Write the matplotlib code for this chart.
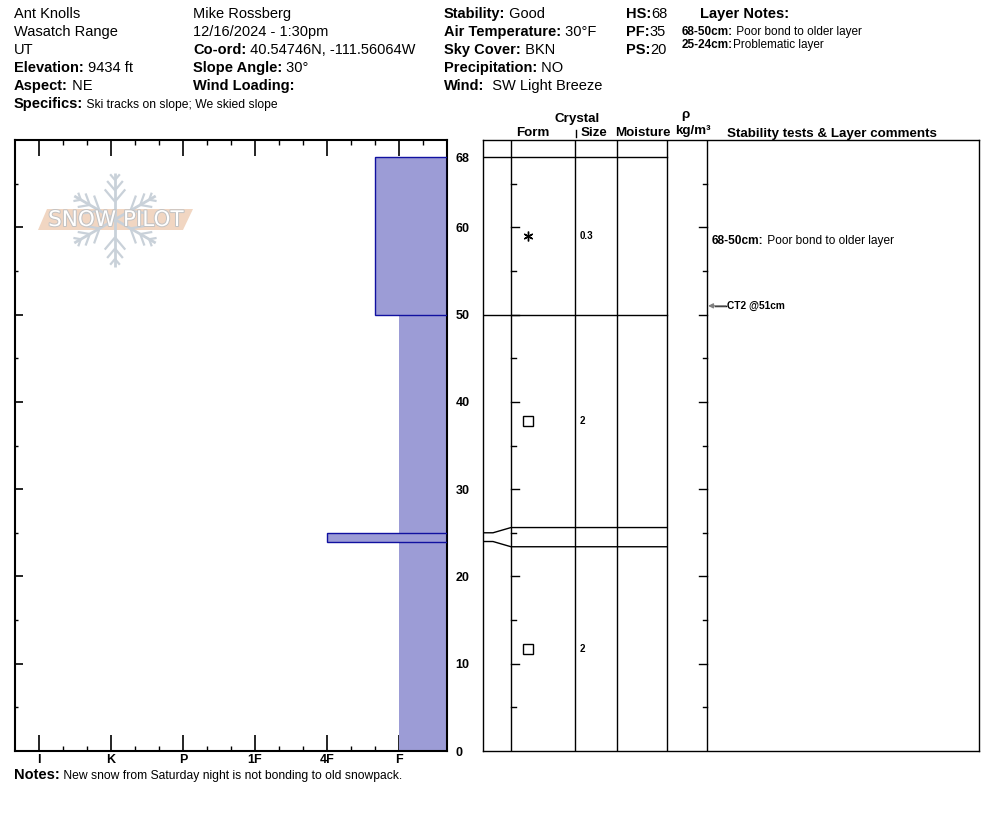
import numpy as np
import matplotlib
matplotlib.use('Agg')
import matplotlib.pyplot as plt
from matplotlib.patches import Polygon
import matplotlib.patheffects as pe

plt.rcParams['font.family'] = ['Liberation Sans', 'DejaVu Sans']

# ---------------- data ----------------
layer_top = [68, 50, 25, 24]
layer_bottom = [50, 25, 24, 0]
layer_hardness = ['F+', 'F', '4F', 'F']
grain_form = ['PP', 'FC', '', 'FC']
grain_size = ['0.3', '2', '', '2']
hardness_labels = ['I', 'K', 'P', '1F', '4F', 'F']
depth_ticks = [0, 10, 20, 30, 40, 50, 60, 68]
snow_height = 68

col1 = [('', 'Ant Knolls'), ('', 'Wasatch Range'), ('', 'UT'),
        ('Elevation:', ' 9434 ft'), ('Aspect:', ' NE')]
col2 = [('', 'Mike Rossberg'), ('', '12/16/2024 - 1:30pm'),
        ('Co-ord:', ' 40.54746N, -111.56064W'), ('Slope Angle:', ' 30°'),
        ('Wind Loading:', '')]
col3 = [('Stability:', ' Good'), ('Air Temperature:', ' 30°F'),
        ('Sky Cover:', ' BKN'), ('Precipitation:', ' NO'),
        ('Wind:', '  SW Light Breeze')]
col4 = [('HS:', '68'), ('PF:', '35'), ('PS:', '20')]
specifics = ('Specifics:', ' Ski tracks on slope; We skied slope')
layer_notes = [('68-50cm:', ' Poor bond to older layer'),
               ('25-24cm:', 'Problematic layer')]
layer_comments = [('68-50cm:', ' Poor bond to older layer', 68, 50)]
stability_tests = [('CT2 @51cm', 51)]
notes = ('Notes:', ' New snow from Saturday night is not bonding to old snowpack.')

# ---------------- helpers ----------------
def hardness_value(h):
    base = {lab: len(hardness_labels) - i for i, lab in enumerate(hardness_labels)}
    if h.endswith('+'):
        return base[h[:-1]] + 1 / 3
    if h.endswith('-'):
        return base[h[:-1]] - 1 / 3
    return base[h]

W, H = 994, 840
fig = plt.figure(figsize=(W / 100, H / 100), dpi=100)

def fx(px):
    return px / W

def fy(py):
    return 1 - py / H

fill_c = '#9c9cd6'
edge_c = '#1010a0'

# ---------------- left hardness profile ----------------
axL = fig.add_axes([fx(15), fy(751), fx(447 - 15), (751 - 140) / H])
xmin_edge = 1 / 3
nh = len(hardness_labels)
axL.set_xlim(nh + 1 / 3, xmin_edge)
axL.set_ylim(0, 70)
min_h = min(hardness_value(h) for h in layer_hardness)
for t, b, h in zip(layer_top, layer_bottom, layer_hardness):
    v = hardness_value(h)
    axL.barh(b, v - xmin_edge, left=xmin_edge, height=t - b, align='edge',
             color=fill_c, edgecolor='none', linewidth=0, zorder=2)
# outlines of the harder layers on top
for t, b, h in zip(layer_top, layer_bottom, layer_hardness):
    v = hardness_value(h)
    if abs(v - min_h) > 1e-9:
        axL.barh(b, v - xmin_edge, left=xmin_edge, height=t - b, align='edge',
                 color='none', edgecolor=edge_c, linewidth=1.0, zorder=3)

major_x = [nh - i for i in range(nh)]
axL.set_xticks(major_x)
axL.set_xticklabels(hardness_labels, fontsize=9, fontweight='bold')
axL.set_xticks([k / 3 for k in range(2, 3 * nh + 1) if k % 3 != 0], minor=True)
axL.set_yticks(depth_ticks)
axL.set_yticklabels([str(d) for d in depth_ticks], fontsize=9, fontweight='bold')
axL.set_yticks(list(range(5, 70, 10)), minor=True)
axL.tick_params(axis='x', which='major', direction='in', length=11.5, width=1.2,
                top=True, bottom=True, pad=2)
axL.tick_params(axis='x', which='minor', direction='in', length=3.6, width=1.0,
                top=True, bottom=True)
axL.tick_params(axis='y', which='major', direction='in', length=5.5, width=1.2,
                left=True, right=True, labelleft=False, labelright=True, pad=6)
axL.tick_params(axis='y', which='minor', direction='in', length=2.2, width=1.0,
                left=True, right=True)
last = axL.yaxis.get_major_ticks()[-1]
last.tick1line.set_visible(False)
last.tick2line.set_visible(False)
for sp in axL.spines.values():
    sp.set_linewidth(1.5)

# ---------------- right panel ----------------
axR = fig.add_axes([fx(483), fy(751), fx(979 - 483), (751 - 140) / H])
axR.set_xlim(0, 496)
axR.set_ylim(0, 70)
axR.set_xticks([])
axR.set_yticks([])
for sp in axR.spines.values():
    sp.set_linewidth(1.0)
col_lines = [28, 92, 134, 184, 224]
for cx in col_lines:
    axR.plot([cx, cx], [0, 70], color='black', lw=1.0)
for d in range(5, 70, 5):
    axR.plot([28, 28 + (8 if d % 10 == 0 else 5)], [d, d], color='black', lw=1.0)
    axR.plot([224 - (8 if d % 10 == 0 else 4), 224], [d, d], color='black', lw=1.0)

# layer boundaries (expanded for thin layers)
min_disp = 2.2
disp = {}
for t, b in zip(layer_top, layer_bottom):
    disp.setdefault(t, t)
    disp.setdefault(b, b)
for t, b in zip(layer_top, layer_bottom):
    if t - b < min_disp:
        mid = (t + b) / 2
        disp[t] = mid + min_disp / 2
        disp[b] = mid - min_disp / 2
for d, dd in disp.items():
    if d <= 0:
        continue
    if abs(dd - d) < 1e-9:
        axR.plot([0, 184], [d, d], color='black', lw=1.0)
    else:
        axR.plot([0, 10, 28, 184], [d, d, dd, dd], color='black', lw=1.0)

marker_map = {'PP': dict(marker=(6, 2, 0), ms=7, mew=1.0, mec='black'),
              'FC': dict(marker='s', ms=6.5, mfc='none', mew=1.0, mec='black')}
for t, b, g, s in zip(layer_top, layer_bottom, grain_form, grain_size):
    mid = (disp[t] + disp[b]) / 2
    if g:
        axR.plot([45], [mid], linestyle='none', **marker_map[g])
    if s:
        axR.text(97, mid, s, fontsize=7, fontweight='bold', va='center', ha='left')

for lab, txt, t, b in layer_comments:
    tt = axR.text(229, (t + b) / 2 + 0.1, lab, fontsize=8.6, fontweight='bold',
                  va='top', ha='left')
    axR.annotate(txt, xy=(1, 0), xycoords=tt, fontsize=8.6, va='bottom', ha='left')

for txt, d in stability_tests:
    axR.annotate('', xy=(225, d), xytext=(243, d),
                 arrowprops=dict(arrowstyle='-|>', color='#808080', lw=1.0,
                                 mutation_scale=7, shrinkA=0, shrinkB=0))
    axR.plot([232, 243], [d, d], color='black', lw=1.0)
    axR.text(244, d, txt, fontsize=7.3, fontweight='bold', va='center', ha='left')

# ---------------- overlay (header text & logo) ----------------
ov = fig.add_axes([0, 0, 1, 1], zorder=10)
ov.set_xlim(0, W)
ov.set_ylim(H, 0)
ov.axis('off')
ov.patch.set_alpha(0)

FS = 10.5
FS_SMALL = 8.7

def labeled(x, y, lab, val, fs=FS, fs_val=None, ax=ov):
    fs_val = fs if fs_val is None else fs_val
    if lab:
        t = ax.text(x, y, lab, fontsize=fs, fontweight='bold', va='baseline', ha='left')
        if val:
            ax.annotate(val, xy=(1, 0), xycoords=t, fontsize=fs_val,
                        va='bottom', ha='left')
    else:
        ax.text(x, y, val, fontsize=fs_val, va='baseline', ha='left')

base_y = [18, 36, 54, 72, 90]
for (lab, val), y in zip(col1, base_y):
    labeled(14, y, lab, val)
for (lab, val), y in zip(col2, base_y):
    labeled(193, y, lab, val)
for (lab, val), y in zip(col3, base_y):
    labeled(444, y, lab, val)
for (lab, val), y in zip(col4, base_y):
    labeled(626, y, lab, val)
labeled(14, 108, specifics[0], specifics[1], fs=FS, fs_val=FS_SMALL)
ov.text(700, 18, 'Layer Notes:', fontsize=FS, fontweight='bold', va='baseline')
for (lab, val), y in zip(layer_notes, [35, 48]):
    labeled(682, y, lab, val, fs=FS_SMALL - 0.2, fs_val=FS_SMALL - 0.2)

# column headers
hdr = dict(fontsize=9.6, fontweight='bold', va='baseline', ha='center')
ov.text(577, 122, 'Crystal', **hdr)
ov.text(533, 136, 'Form', **hdr)
ov.text(594, 136, 'Size', **hdr)
ov.text(643, 136, 'Moisture', **hdr)
ov.text(685, 118, 'ρ', **hdr)
ov.text(693, 134, 'kg/m³', **hdr)
ov.text(832, 137, 'Stability tests & Layer comments', **hdr)
ov.plot([576, 576], [130, 137], color='black', lw=1.0)

labeled(14, 779, notes[0], notes[1], fs=FS, fs_val=FS_SMALL)

# logo
cx0, cy0, R = 115, 219.5, 47
flake_c = '#c9d1d9'
for k in range(6):
    a = np.deg2rad(90 + 60 * k)
    ux, uy = np.cos(a), -np.sin(a)
    ov.plot([cx0, cx0 + R * ux], [cy0, cy0 + R * uy], color=flake_c, lw=2.0,
            solid_capstyle='butt')
    for frac, bl in [(0.38, 0.34), (0.62, 0.26), (0.84, 0.16)]:
        px_, py_ = cx0 + frac * R * ux, cy0 + frac * R * uy
        for sgn in (-1, 1):
            b = a + sgn * np.deg2rad(40)
            ov.plot([px_, px_ + bl * R * np.cos(b)], [py_, py_ - bl * R * np.sin(b)],
                    color=flake_c, lw=1.6, solid_capstyle='butt')
band = Polygon([(47, 209), (193, 209), (183, 230), (38, 230)], closed=True,
               facecolor='#f1d6c2', edgecolor='none')
ov.add_patch(band)
ov.text(116, 220, 'SNOW PILOT', fontsize=15.5, color='white', family='DejaVu Sans',
        ha='center', va='center',
        path_effects=[pe.withStroke(linewidth=1.4, foreground='#c2c2c2')])

fig.savefig('out.png', dpi=100)
